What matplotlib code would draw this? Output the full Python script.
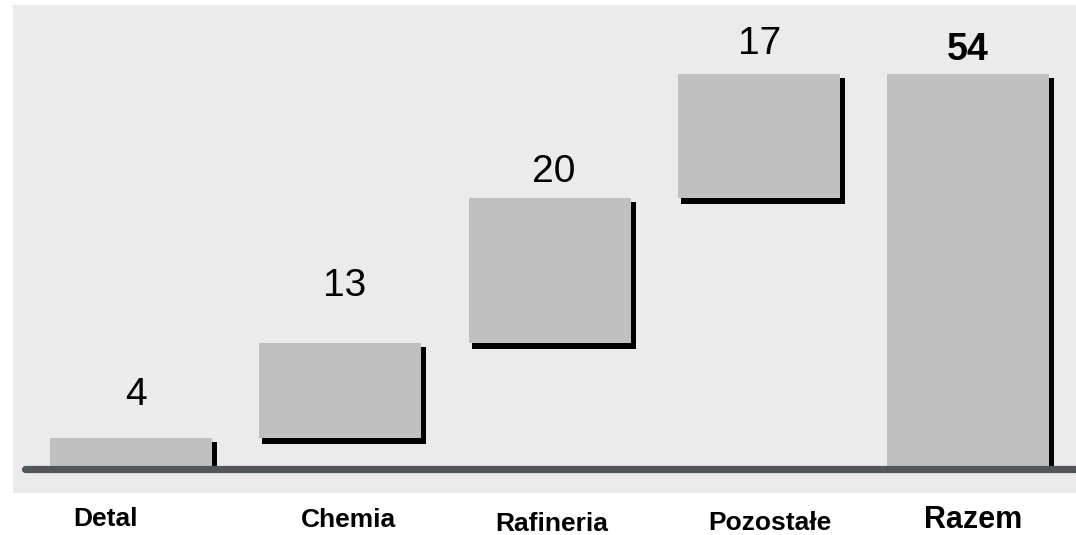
import matplotlib
matplotlib.use("Agg")
import matplotlib.pyplot as plt
import matplotlib.transforms as mtransforms

plt.rcParams['font.family'] = ['Liberation Sans', 'DejaVu Sans']

# Data
categories = ["Detal", "Chemia", "Rafineria", "Pozostałe", "Razem"]
values = [4, 13, 20, 17, 54]
is_total = [False, False, False, False, True]

# Waterfall bottoms
bottoms = []
running = 0
for v, tot in zip(values, is_total):
    if tot:
        bottoms.append(0)
    else:
        bottoms.append(running)
        running += v

dpi = 100
fig = plt.figure(figsize=(10.76, 5.35), dpi=dpi)
fig.patch.set_facecolor("white")

# panel area in pixels: x 13..1076, y 5..493
ax = fig.add_axes([13 / 1076, (535 - 493) / 535, 1063 / 1076, 488 / 535])
ax.set_facecolor("#ebebeb")
for s in ax.spines.values():
    s.set_visible(False)
ax.set_xticks([])
ax.set_yticks([])
ax.set_xlim(-0.564, 4.516)
ax.set_ylim(-3.57, 63.46)

x = list(range(len(categories)))
width = 0.774

# shadow bars, shifted right / down
shadow_tr = ax.transData + mtransforms.ScaledTranslation(4 / dpi, -5 / dpi, fig.dpi_scale_trans)
ax.bar(x, values, width=width, bottom=bottoms, color="black",
       edgecolor="black", linewidth=1.44, transform=shadow_tr, zorder=2)
ax.bar(x, values, width=width, bottom=bottoms, color="#c0c0c0",
       edgecolor="none", zorder=3)

# baseline (covers shadow ends of the bars standing on zero)
ax.plot([-0.507, 4.511], [-0.3, -0.3], color="#515759", linewidth=5.2,
        solid_capstyle="round", zorder=4)

px = 72 / dpi  # points per pixel

# value labels
val_dx = [5, 4, 4, 1, 0]
val_dy = [33, 47, 16, 20, 14]
for i, (v, b) in enumerate(zip(values, bottoms)):
    bold = is_total[i]
    ax.annotate(str(v), xy=(i, b + v), xytext=(val_dx[i] * px, val_dy[i] * px),
                textcoords="offset points", ha="center", va="baseline",
                fontsize=27 if bold else 28,
                fontweight="bold" if bold else "normal",
                annotation_clip=False, zorder=5)

# category labels
cat_dx = [-26, 8, 2, 11, 5]
cat_dy = [59, 60, 64, 63, 61]
for i, c in enumerate(categories):
    ax.annotate(c, xy=(i, 0), xytext=(cat_dx[i] * px, -cat_dy[i] * px),
                textcoords="offset points", ha="center", va="baseline",
                fontsize=22 if is_total[i] else 19, fontweight="bold",
                annotation_clip=False)

fig.savefig("out.png", dpi=dpi)
